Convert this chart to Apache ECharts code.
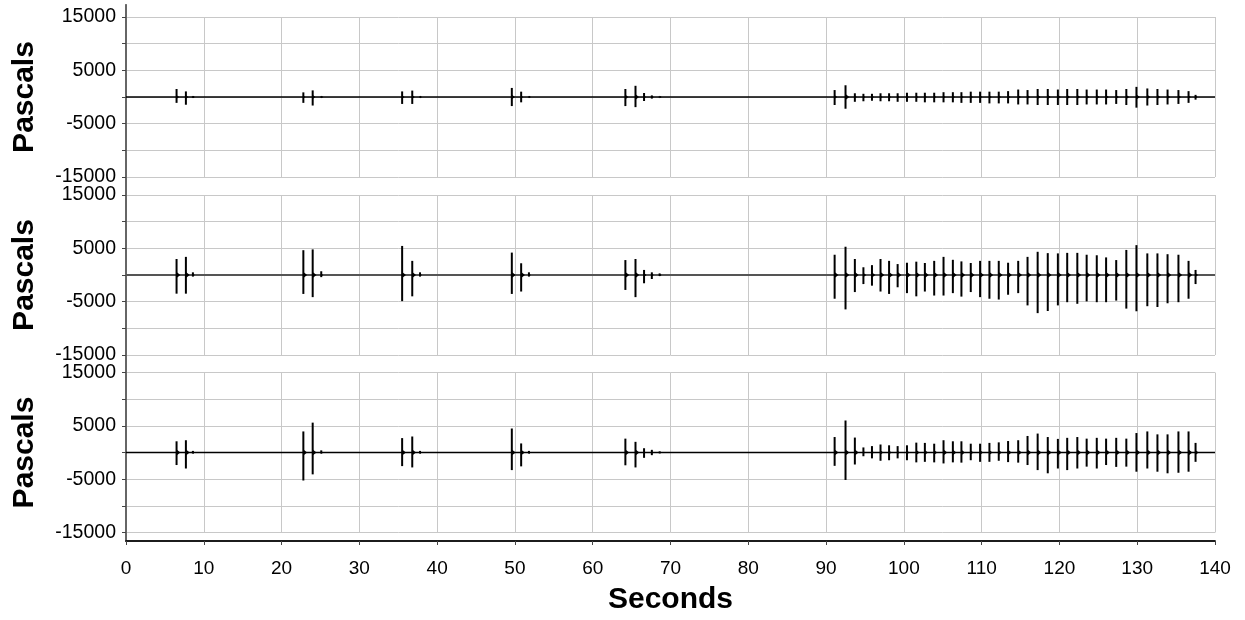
<!DOCTYPE html>
<html>
<head>
<meta charset="utf-8">
<script src="https://cdn.jsdelivr.net/npm/echarts@6/dist/echarts.min.js"></script>
<style>
html,body{margin:0;padding:0;background:#fff;}
#chart{width:1245px;height:620px;}
</style>
</head>
<body>
<div id="chart"></div>
<script>
// Event times (seconds), shared by all three sensors
var spikeTimes = [6.5, 7.7, 8.6, 22.8, 24.0, 25.1, 35.5, 36.8, 37.8, 49.6, 50.8, 51.8,
  64.2, 65.5, 66.6, 67.6, 68.6,
  91.1, 92.5, 93.7, 94.8, 95.9, 97.0, 98.1, 99.2, 100.4, 101.6, 102.7, 103.9, 105.1,
  106.3, 107.4, 108.6, 109.8, 111.0, 112.2, 113.4, 114.7, 115.9, 117.2, 118.5, 119.8,
  121.0, 122.3, 123.5, 124.8, 126.0, 127.3, 128.6, 129.9, 131.3, 132.6, 133.9, 135.3,
  136.6, 137.5];

// Sensor 1 (top)
var topPeaks = [1500, 1050, 150, 870, 1240, 100, 1050, 1200, 100, 1700, 1000, 100,
  1500, 2100, 750, 300, 100,
  1300, 2200, 700, 600, 600, 700, 700, 700, 800, 800, 800, 800, 900,
  900, 900, 1000, 1000, 1000, 1000, 1100, 1400, 1300, 1500, 1500, 1400,
  1500, 1500, 1400, 1400, 1400, 1300, 1500, 1900, 1600, 1500, 1400, 1300,
  1100, 400];
var topTroughs = [-1100, -1450, -150, -1100, -1600, -100, -1300, -1300, -100, -1700, -1000, -100,
  -1700, -1900, -750, -300, -100,
  -1500, -2200, -900, -800, -700, -800, -800, -900, -900, -900, -1000, -1000, -1000,
  -1000, -1100, -1100, -1100, -1200, -1200, -1200, -1400, -1400, -1500, -1500, -1500,
  -1500, -1500, -1400, -1400, -1400, -1300, -1500, -2000, -1600, -1500, -1400, -1300,
  -1100, -500];

// Sensor 2 (middle)
var midPeaks = [3000, 3400, 500, 4650, 4800, 700, 5450, 2650, 500, 4200, 2200, 500,
  2800, 3000, 950, 500, 300,
  3800, 5300, 3000, 1450, 1850, 3000, 2650, 2050, 2300, 2500, 2250, 2650, 3400,
  2850, 2550, 2250, 2650, 2650, 2650, 2300, 2650, 3400, 4350, 4100, 4050,
  4150, 4150, 3800, 3700, 3300, 2800, 4700, 5600, 4050, 4050, 3900, 3800,
  2650, 950];
var midTroughs = [-3500, -3500, -300, -3550, -4150, -400, -4900, -4000, -300, -3550, -3100, -300,
  -2800, -4150, -1550, -750, -200,
  -4450, -6450, -3200, -1700, -2000, -3100, -3550, -2300, -3400, -4000, -3100, -3850, -3850,
  -3400, -4050, -3200, -4150, -4450, -4600, -3700, -3400, -5700, -7150, -6750, -5700,
  -5100, -5400, -4950, -5100, -5100, -4800, -6300, -6800, -5850, -6000, -5300, -5100,
  -4450, -1700];

// Sensor 3 (bottom)
var botPeaks = [2100, 2300, 300, 3950, 5600, 400, 2700, 3000, 300, 4500, 1700, 300,
  2600, 2000, 800, 500, 200,
  2900, 6000, 2800, 950, 1200, 1500, 1350, 1200, 1350, 1850, 1800, 1650, 2300,
  2100, 2100, 1650, 1650, 1800, 1900, 2150, 2300, 3100, 3550, 2900, 2550,
  2750, 2900, 2600, 2750, 2600, 2750, 2600, 3650, 3950, 3400, 3400, 3950,
  3950, 1800];
var botTroughs = [-2350, -3000, -200, -5250, -4100, -200, -2550, -2800, -200, -3300, -2600, -200,
  -2400, -2800, -1000, -500, -150,
  -2500, -5150, -2250, -700, -1100, -1550, -1450, -1100, -1450, -1850, -1750, -1850, -2050,
  -1850, -1900, -1450, -1750, -1750, -1550, -1800, -1900, -2350, -3300, -3900, -3000,
  -3300, -3000, -2650, -3000, -2350, -2700, -2650, -3600, -3000, -3600, -3900, -3800,
  -3600, -1750];

var xMin = 0, xMax = 140;
var baseline = [[xMin, 0], [xMax, 0]];
var yTickLabels = ['15000', '5000', '-5000', '-15000'];

function spikeData(peaks, troughs) {
  return spikeTimes.map(function (t, i) { return [t, peaks[i], troughs[i]]; });
}

function renderSpike(params, api) {
  var t = api.value(0), pk = api.value(1), tr = api.value(2);
  var a = api.coord([t, pk]), b = api.coord([t, tr]), z = api.coord([t, 0]);
  var h = Math.min(3, Math.max(1.2, (b[1] - a[1]) / 8));
  return {
    type: 'group',
    children: [
      {type: 'line', shape: {x1: a[0], y1: a[1], x2: b[0], y2: b[1]},
        style: {stroke: '#000', lineWidth: 2}},
      {type: 'polygon', shape: {points: [[z[0], z[1] - h], [z[0] + h + 0.8, z[1]], [z[0], z[1] + h]]},
        style: {fill: '#000'}}
    ]
  };
}

var panels = [
  {top: 17, spikes: spikeData(topPeaks, topTroughs), base: '#000', baseW: 1.5},
  {top: 195, spikes: spikeData(midPeaks, midTroughs), base: '#555', baseW: 2},
  {top: 372.5, spikes: spikeData(botPeaks, botTroughs), base: '#000', baseW: 1.5}
];

var FONT = 'Liberation Sans, Arial, sans-serif';
var grids = [], xAxes = [], yAxes = [], series = [];

panels.forEach(function (p, i) {
  grids.push({left: 126, right: 30, top: p.top, height: 160});
  xAxes.push({
    type: 'value', gridIndex: i, min: xMin, max: xMax, interval: 10,
    axisLine: {show: false}, axisTick: {show: false}, axisLabel: {show: false},
    splitLine: {show: true, lineStyle: {color: '#c8c8c8', width: 1}}
  });
  yAxes.push({
    type: 'value', gridIndex: i, min: -15000, max: 15000, interval: 5000,
    name: 'Pascals', nameLocation: 'middle', nameGap: 86, nameRotate: 90,
    nameTextStyle: {fontFamily: FONT, fontWeight: 'bold', fontSize: 30, color: '#000'},
    axisLine: {show: false},
    axisTick: {show: true, length: 4, lineStyle: {color: '#444'}},
    axisLabel: {
      margin: 10, fontFamily: FONT, fontSize: 19.5, color: '#000',
      formatter: function (v) {
        var s = String(v);
        return yTickLabels.indexOf(s) >= 0 ? s : '';
      }
    },
    splitLine: {show: true, lineStyle: {color: '#c8c8c8', width: 1}}
  });
  series.push({
    type: 'line', xAxisIndex: i, yAxisIndex: i, data: baseline,
    showSymbol: false, symbol: 'none', animation: false,
    lineStyle: {color: p.base, width: p.baseW}, z: 3
  });
  series.push({
    type: 'custom', xAxisIndex: i, yAxisIndex: i, data: p.spikes,
    encode: {x: 0, y: [1, 2]}, renderItem: renderSpike, animation: false, z: 4
  });
});

// Frame grid (outer border + shared x axis)
grids.push({left: 126, right: 30, top: 5, bottom: 77});
var fi = grids.length - 1;
xAxes.push({
  type: 'value', gridIndex: fi, min: xMin, max: xMax, interval: 10, position: 'bottom',
  name: 'Seconds', nameLocation: 'middle', nameGap: 44,
  nameTextStyle: {fontFamily: FONT, fontWeight: 'bold', fontSize: 30, color: '#000'},
  axisLine: {show: true, lineStyle: {color: '#444', width: 1.5}},
  axisTick: {show: true, length: 4, lineStyle: {color: '#444'}},
  axisLabel: {margin: 18, fontFamily: FONT, fontSize: 19, color: '#000'},
  splitLine: {show: false}
});
xAxes.push({
  type: 'value', gridIndex: fi, min: xMin, max: xMax, position: 'top',
  axisLine: {show: true, lineStyle: {color: '#000', width: 1.5}},
  axisTick: {show: false}, axisLabel: {show: false}, splitLine: {show: false}
});
yAxes.push({
  type: 'value', gridIndex: fi, min: 0, max: 1, position: 'left',
  axisLine: {show: true, lineStyle: {color: '#444', width: 1.5}},
  axisTick: {show: false}, axisLabel: {show: false}, splitLine: {show: false}
});
yAxes.push({
  type: 'value', gridIndex: fi, min: 0, max: 1, position: 'right',
  axisLine: {show: true, lineStyle: {color: '#666', width: 2}},
  axisTick: {show: false}, axisLabel: {show: false}, splitLine: {show: false}
});

var chart = echarts.init(document.getElementById('chart'), null, {renderer: 'canvas'});
chart.setOption({
  animation: false,
  backgroundColor: '#fff',
  grid: grids,
  xAxis: xAxes,
  yAxis: yAxes,
  series: series
});
</script>
</body>
</html>
